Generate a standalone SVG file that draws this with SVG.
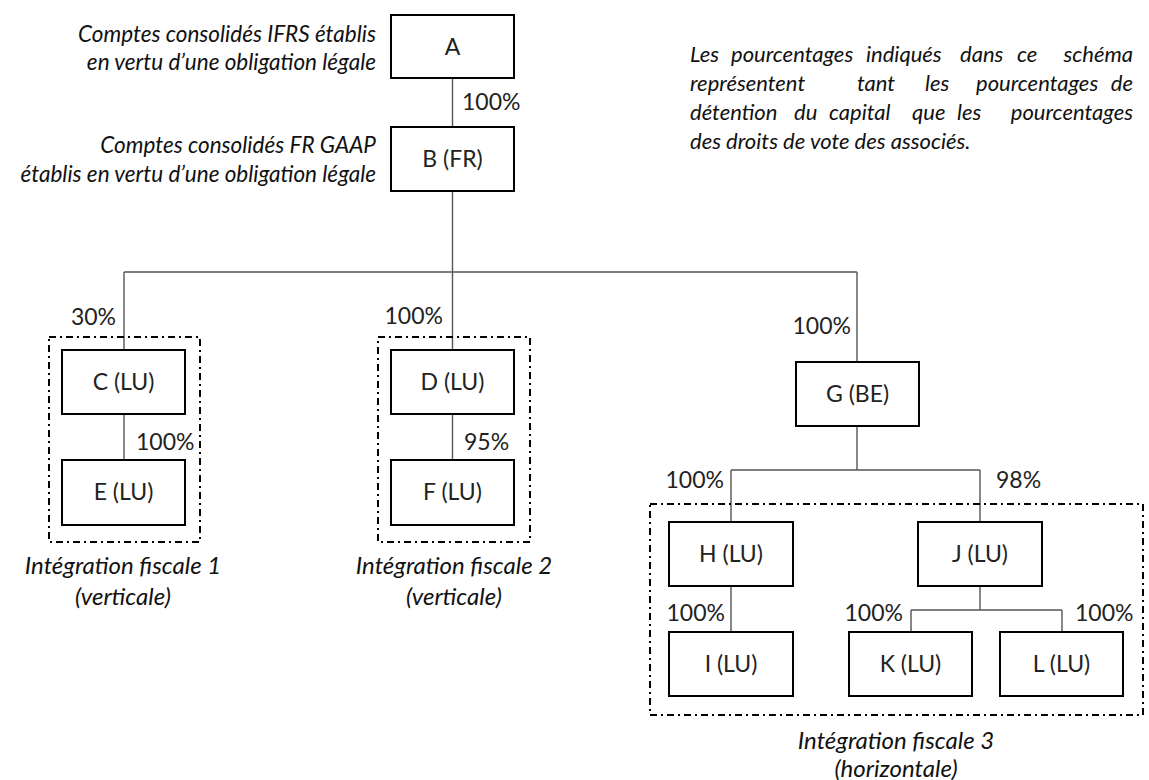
<svg xmlns="http://www.w3.org/2000/svg" width="1149" height="780" viewBox="0 0 1149 780">
<style>
.box{fill:#fff;stroke:#000;stroke-width:2}
.lbl{font-family:Lato,"Liberation Sans",sans-serif;font-size:23px;fill:#222;text-anchor:middle}
.pct{font-family:Lato,"Liberation Sans",sans-serif;font-size:23px;fill:#222}
.it{font-family:Lato,"Liberation Sans",sans-serif;font-style:italic;fill:#111}
.note{font-size:22.5px;text-anchor:end}
.para{font-size:22px}
.grp{fill:none;stroke:#000;stroke-width:2;stroke-dasharray:7 4 2 4}
.cap{font-size:24px;text-anchor:middle}
.conn{fill:none;stroke:#555;stroke-width:1.4}
</style>
<rect width="1149" height="780" fill="#fff"/>

<g id="connectors">
<path class="conn" d="M452.5 78V127M452.5 191V272M124 272H857M124 272V350M452.5 272V350M857 272V362M124 414V460M452.5 414V460M857 426V470M731 470H980M731 470V522M980 470V522M731 586V632M980 586V610M911 610H1062M911 610V632M1062 610V632"/>
</g>

<g id="groups">
<rect class="grp" x="49" y="337" width="151" height="205"/>
<rect class="grp" x="378" y="337" width="152" height="205"/>
<rect class="grp" x="650" y="504" width="493" height="211"/>
<text class="it cap" x="123" y="574">Intégration fiscale 1</text>
<text class="it cap" x="123" y="605">(verticale)</text>
<text class="it cap" x="454" y="574">Intégration fiscale 2</text>
<text class="it cap" x="454" y="605">(verticale)</text>
<text class="it cap" x="896" y="749">Intégration fiscale 3</text>
<text class="it cap" x="896" y="777">(horizontale)</text>
</g>

<g id="notes">
<text class="it note" x="376" y="42">Comptes consolidés IFRS établis</text>
<text class="it note" x="376" y="70">en vertu d’une obligation légale</text>
<text class="it note" x="376" y="153">Comptes consolidés FR GAAP</text>
<text class="it note" x="376" y="182">établis en vertu d’une obligation légale</text>
<g class="it para">
<text x="690" y="62">Les</text><text x="731" y="62">pourcentages</text><text x="866" y="62">indiqués</text><text x="960" y="62">dans</text><text x="1017" y="62">ce</text><text x="1133" y="62" text-anchor="end">schéma</text>
<text x="690" y="91">représentent</text><text x="857" y="91">tant</text><text x="925" y="91">les</text><text x="976" y="91">pourcentages</text><text x="1133" y="91" text-anchor="end">de</text>
<text x="690" y="120">détention</text><text x="794" y="120">du</text><text x="829" y="120">capital</text><text x="912" y="120">que</text><text x="957" y="120">les</text><text x="1133" y="120" text-anchor="end">pourcentages</text>
<text x="690" y="149">des droits de vote des associés.</text>
</g>
</g>

<g id="node-A"><rect class="box" x="391" y="15" width="123" height="63"/><text class="lbl" x="452.5" y="55">A</text></g>
<g id="node-B"><rect class="box" x="391" y="127" width="123" height="64"/><text class="lbl" x="452.5" y="167">B (FR)</text></g>
<g id="node-C"><rect class="box" x="62" y="350" width="123" height="64"/><text class="lbl" x="123.5" y="390">C (LU)</text></g>
<g id="node-E"><rect class="box" x="62" y="460" width="123" height="65"/><text class="lbl" x="123.5" y="500">E (LU)</text></g>
<g id="node-D"><rect class="box" x="391" y="350" width="123" height="64"/><text class="lbl" x="452.5" y="390">D (LU)</text></g>
<g id="node-F"><rect class="box" x="391" y="460" width="123" height="65"/><text class="lbl" x="452.5" y="500">F (LU)</text></g>
<g id="node-G"><rect class="box" x="796" y="362" width="123" height="64"/><text class="lbl" x="857.5" y="402">G (BE)</text></g>
<g id="node-H"><rect class="box" x="669" y="522" width="124" height="64"/><text class="lbl" x="731" y="562">H (LU)</text></g>
<g id="node-J"><rect class="box" x="918" y="522" width="124" height="64"/><text class="lbl" x="980" y="562">J (LU)</text></g>
<g id="node-I"><rect class="box" x="669" y="632" width="124" height="64"/><text class="lbl" x="731" y="672">I (LU)</text></g>
<g id="node-K"><rect class="box" x="849" y="632" width="123" height="64"/><text class="lbl" x="910.5" y="672">K (LU)</text></g>
<g id="node-L"><rect class="box" x="1000" y="632" width="123" height="64"/><text class="lbl" x="1061.5" y="672">L (LU)</text></g>

<g id="percentages">
<text class="pct" x="462" y="110">100%</text>
<text class="pct" x="116" y="325" text-anchor="end">30%</text>
<text class="pct" x="443" y="324" text-anchor="end">100%</text>
<text class="pct" x="851" y="334" text-anchor="end">100%</text>
<text class="pct" x="136" y="450">100%</text>
<text class="pct" x="464" y="450">95%</text>
<text class="pct" x="724" y="488" text-anchor="end">100%</text>
<text class="pct" x="996" y="488">98%</text>
<text class="pct" x="725" y="621" text-anchor="end">100%</text>
<text class="pct" x="903" y="621" text-anchor="end">100%</text>
<text class="pct" x="1075" y="621">100%</text>
</g>
</svg>
